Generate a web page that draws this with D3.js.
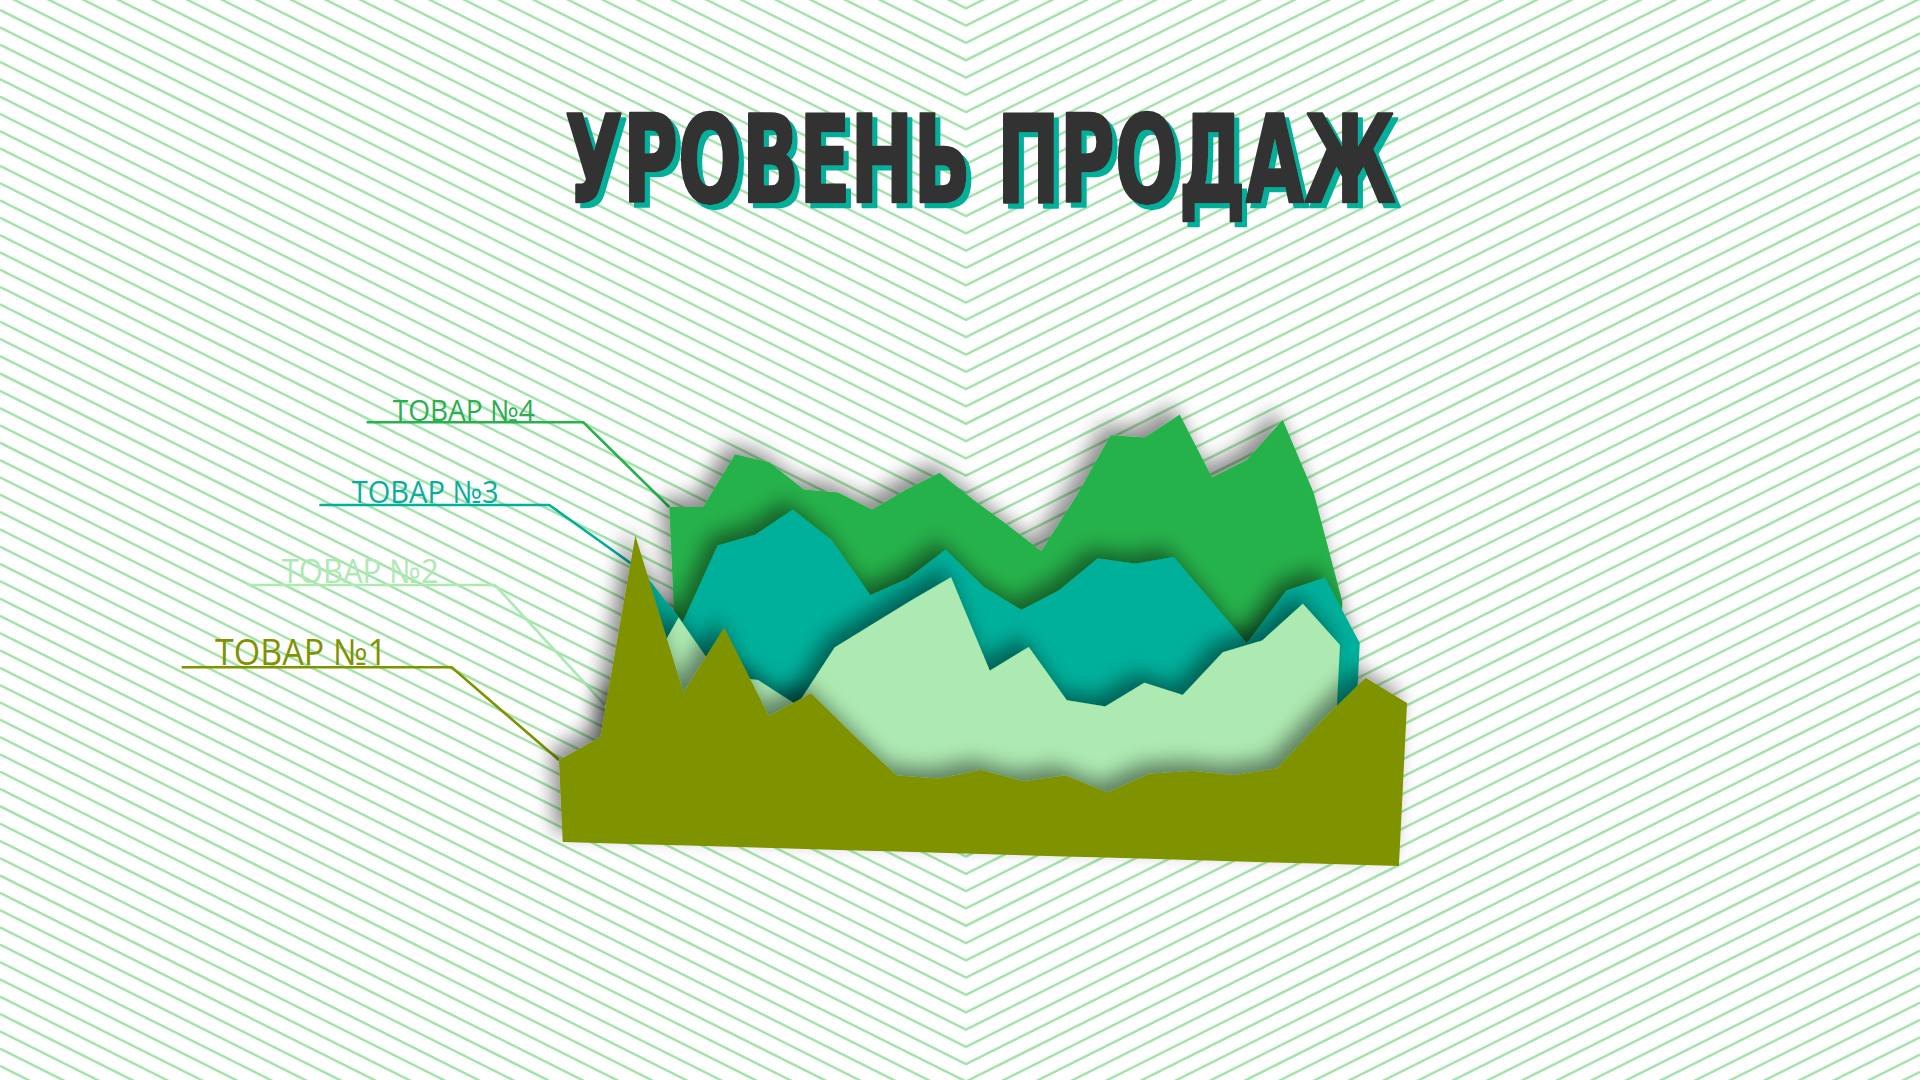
<!DOCTYPE html>
<html><head><meta charset="utf-8">
<script src="https://cdn.jsdelivr.net/npm/d3@7"></script>
<style>html,body{margin:0;padding:0;background:#fff;overflow:hidden}</style>
</head><body><svg id="chart" width="1920" height="1080"></svg>
<script>
// ---------- data ----------
const titleText = "УРОВЕНЬ ПРОДАЖ";
const seriesNames = ["ТОВАР №1", "ТОВАР №2", "ТОВАР №3", "ТОВАР №4"];
const seriesColors = ["#7f9200", "#adeab1", "#02b09b", "#27b24b"];
const tovar1 = [8.2, 10.6, 30.9, 15.3, 21.9, 13.2, 15.6, 11.5, 7.6, 7.4, 8.4, 7.4, 8.1, 6.5, 8.5, 8.9, 8.6, 9.4, 14.2, 18.7, 16.3];
const tovar2 = [11.5, 13.9, 20.5, 14.8, 14.5, 12.1, 18.0, 20.5, 23.0, 25.4, 16.2, 18.7, 13.5, 13.0, 15.5, 14.4, 18.8, 20.1, 23.9, 19.9];
const tovar3 = [22.3, 17.4, 25.2, 26.4, 29.0, 26.1, 20.7, 22.5, 25.5, 21.9, 19.7, 21.8, 25.1, 24.7, 25.5, 21.3, 17.1, 22.5, 23.9, 17.5];
const tovar4 = [26.1, 26.2, 31.6, 30.9, 28.3, 28.1, 26.5, 28.6, 30.4, 27.8, 25.4, 22.9, 28.4, 34.7, 34.6, 37.0, 30.8, 32.7, 36.8, 29.6, 18.8];

// ---------- layout ----------
const svg = d3.select("#chart");
const W = 1920, H = 1080;

// background chevron pattern
const bg = svg.append("g");
const apexX = 966, step = 17.31, slope = 0.5;
const apexYs = d3.range(8.3, H + apexX * slope + step, step);
bg.selectAll("path").data(apexYs).join("path")
  .attr("d", y => `M0,${y - apexX * slope} L${apexX},${y} L${W},${y - (W - apexX) * slope}`)
  .attr("fill", "none").attr("stroke", "#a4e4ab").attr("stroke-width", 2.5);

// filters
const defs = svg.append("defs");
const flt = defs.append("filter").attr("id", "sh")
  .attr("filterUnits", "userSpaceOnUse").attr("x", 0).attr("y", 0).attr("width", W).attr("height", H);
flt.append("feDropShadow").attr("dx", -8).attr("dy", -10).attr("stdDeviation", 10)
  .attr("flood-color", "#000").attr("flood-opacity", 0.45);
const tflt = defs.append("filter").attr("id", "tsh")
  .attr("filterUnits", "userSpaceOnUse").attr("x", 0).attr("y", 0).attr("width", W).attr("height", H);
tflt.append("feDropShadow").attr("dx", 5).attr("dy", 5).attr("stdDeviation", 0)
  .attr("flood-color", "#00b09b").attr("flood-opacity", 1);

// value scale (shared)
const yScale = d3.scaleLinear().domain([0, 40]).range([0, 400]);

// layers back to front
const layers = [
  { idx: 3, values: tovar4, x0: 681, x1: 1333, b0: 768, b1: 790,
    label: { x: 392.7, y: 420.7, size: 29, len: 142 }, lead: { x0: 366.7, x1: 583.3, y: 422.3 }, textColor: "#2aae4f" },
  { idx: 2, values: tovar3, x0: 653, x1: 1351, b0: 795, b1: 818,
    label: { x: 351.7, y: 502.7, size: 31, len: 147 }, lead: { x0: 319.3, x1: 549.3, y: 505 }, textColor: "#0aad9d" },
  { idx: 1, values: tovar2, x0: 610, x1: 1330, b0: 820, b1: 844,
    label: { x: 281.7, y: 582.7, size: 33, len: 157 }, lead: { x0: 247.3, x1: 495, y: 585 }, textColor: "#aee9b3" },
  { idx: 0, values: tovar1, x0: 562.7, x1: 1398.9, b0: 842, b1: 866,
    label: { x: 215, y: 665, size: 36, len: 172 }, lead: { x0: 181.7, x1: 451.7, y: 667.3 }, textColor: "#7f9200" }
];

layers.forEach(L => {
  const n = L.values.length;
  L.xs = d3.scaleLinear().domain([0, n - 1]).range([L.x0, L.x1]);
  L.base = d3.scaleLinear().domain([0, n - 1]).range([L.b0, L.b1]);
  L.tilt = d3.scaleLinear().domain([0, n - 1]).range([-0.045, 0.05]);
  L.topX = i => L.xs(i) + yScale(L.values[i]) * L.tilt(i);
  L.topY = i => L.base(i) - yScale(L.values[i]);
});

// leaders and labels (under the chart)
const lg = svg.append("g");
layers.forEach(L => {
  const c = seriesColors[L.idx];
  lg.append("path")
    .attr("d", `M${L.lead.x0},${L.lead.y} H${L.lead.x1} L${L.topX(0)},${L.topY(0)}`)
    .attr("fill", "none").attr("stroke", c).attr("stroke-width", 2.6);
  lg.append("text")
    .attr("x", L.label.x).attr("y", L.label.y)
    .attr("font-family", "'Open Sans', 'Noto Sans', sans-serif")
    .attr("font-size", L.label.size)
    .attr("textLength", L.label.len).attr("lengthAdjust", "spacingAndGlyphs")
    .attr("fill", L.textColor)
    .text(seriesNames[L.idx]);
});

// chart layers
const cg = svg.append("g");
layers.forEach(L => {
  const area = d3.area()
    .x0((d, i) => L.xs(i))
    .y0((d, i) => L.base(i))
    .x1((d, i) => L.topX(i))
    .y1((d, i) => L.topY(i));
  cg.append("path")
    .datum(L.values)
    .attr("d", area)
    .attr("fill", seriesColors[L.idx])
    .attr("filter", "url(#sh)");
});

// title with teal offset shadow
svg.append("text")
  .attr("x", 565).attr("y", 201.7)
  .attr("font-family", "'Liberation Sans Narrow', 'DejaVu Sans Condensed', 'Liberation Sans', sans-serif")
  .attr("font-weight", "bold")
  .attr("font-size", 121)
  .attr("textLength", 831).attr("lengthAdjust", "spacingAndGlyphs")
  .attr("fill", "#333333").attr("stroke", "#333333").attr("stroke-width", 2.5)
  .attr("stroke-linejoin", "round")
  .attr("filter", "url(#tsh)")
  .text(titleText);
</script>
</body></html>
